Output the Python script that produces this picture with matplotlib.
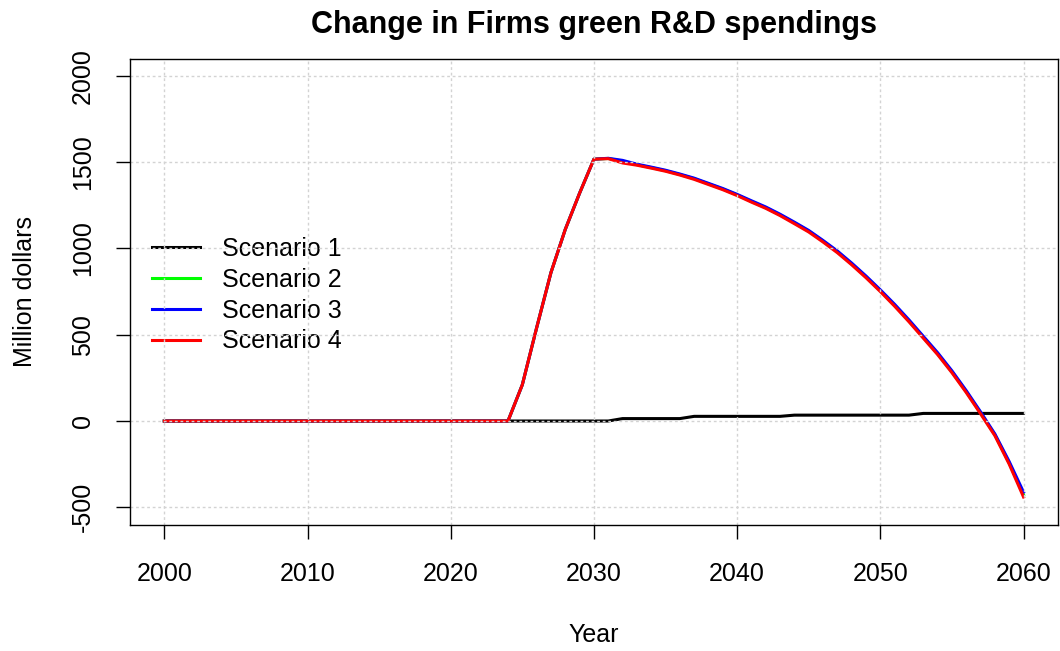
from matplotlib import pyplot as plt
import numpy as np

plt.rcParams["font.family"] = ["Liberation Sans", "DejaVu Sans"]
plt.rcParams["axes.unicode_minus"] = False

YEARS = np.arange(2000, 2061)

scenario_1 = [
    0, 0, 0, 0, 0, 0, 0, 0, 0, 0,
    0, 0, 0, 0, 0, 0, 0, 0, 0, 0,
    0, 0, 0, 0, 0, 0, 0, 0, 0, 0,
    0, 0, 14, 14, 14, 14, 14, 27, 27, 27,
    27, 27, 27, 27, 34, 34, 34, 34, 34, 34,
    34, 34, 34, 44, 44, 44, 44, 44, 44, 44,
    44,
]

scenario_2 = [
    0, 0, 0, 0, 0, 0, 0, 0, 0, 0,
    0, 0, 0, 0, 0, 0, 0, 0, 0, 0,
    0, 0, 0, 0, 0, 210, 540, 860, 1110, 1320,
    1517, 1521, 1505, 1485, 1468, 1450, 1428, 1404, 1374, 1344,
    1310, 1272, 1236, 1194, 1148, 1100, 1042, 980, 910, 835,
    755, 670, 580, 485, 390, 285, 170, 47, -80, -243,
    -427,
]

scenario_3 = [
    0, 0, 0, 0, 0, 0, 0, 0, 0, 0,
    0, 0, 0, 0, 0, 0, 0, 0, 0, 0,
    0, 0, 0, 0, 0, 210, 540, 860, 1110, 1320,
    1517, 1522, 1510, 1488, 1471, 1453, 1431, 1407, 1377, 1347,
    1313, 1276, 1240, 1198, 1152, 1104, 1046, 985, 915, 840,
    760, 676, 586, 491, 396, 291, 176, 53, -75, -235,
    -412,
]

scenario_4 = [
    0, 0, 0, 0, 0, 0, 0, 0, 0, 0,
    0, 0, 0, 0, 0, 0, 0, 0, 0, 0,
    0, 0, 0, 0, 0, 210, 540, 860, 1110, 1320,
    1517, 1520, 1495, 1482, 1465, 1447, 1425, 1400, 1370, 1340,
    1306, 1268, 1232, 1190, 1143, 1095, 1037, 975, 905, 830,
    750, 665, 575, 480, 385, 280, 165, 42, -85, -250,
    -440,
]

SERIES = [
    ("Scenario 1", scenario_1, "black"),
    ("Scenario 2", scenario_2, "#00ff00"),
    ("Scenario 3", scenario_3, "#0000ff"),
    ("Scenario 4", scenario_4, "#ff0000"),
]

X_TICKS = [2000, 2010, 2020, 2030, 2040, 2050, 2060]
Y_TICKS = [-500, 0, 500, 1000, 1500, 2000]

fig = plt.figure(figsize=(10.6, 6.51), dpi=100)
ax = fig.add_axes([0.1226, 0.1942, 0.8754, 0.7159])

for label, values, color in SERIES:
    ax.plot(YEARS, values, color=color, linewidth=2.2, label=label, zorder=2)

ax.set_xlim(1997.6, 2062.4)
ax.set_ylim(-600, 2100)
ax.set_xticks(X_TICKS)
ax.set_yticks(Y_TICKS)

# dotted light grey grid sits on top of the curves
ax.grid(True, color="#d3d3d3", linestyle=(0, (2, 2)), linewidth=1.0, zorder=3)
ax.set_axisbelow(False)

for spine in ax.spines.values():
    spine.set_linewidth(1.0)
    spine.set_zorder(4)

ax.tick_params(axis="both", direction="out", length=10, width=1.0, labelsize=18)
ax.tick_params(axis="x", pad=17)
ax.tick_params(axis="y", pad=15)
for lbl in ax.get_yticklabels():
    lbl.set_rotation(90)
    lbl.set_va("center")

ax.set_xlabel("Year", fontsize=18)
ax.xaxis.set_label_coords(0.5, -0.237)
ax.xaxis.label.set_va("center")
ax.set_ylabel("Million dollars", fontsize=18)
ax.yaxis.set_label_coords(-0.113, 0.5)
ax.yaxis.label.set_va("center")

title = ax.set_title("Change in Firms green R&D spendings", fontsize=22,
                     fontweight="bold", y=1.054)
title.set_va("center")

lgd = ax.legend(loc="upper left", bbox_to_anchor=(0.024, 0.617), frameon=False,
                fontsize=18, handlelength=1.9, handletextpad=0.9,
                labelspacing=0.27, borderpad=0, borderaxespad=0)
lgd.set_zorder(1)

fig.savefig("out.png", dpi=100)
